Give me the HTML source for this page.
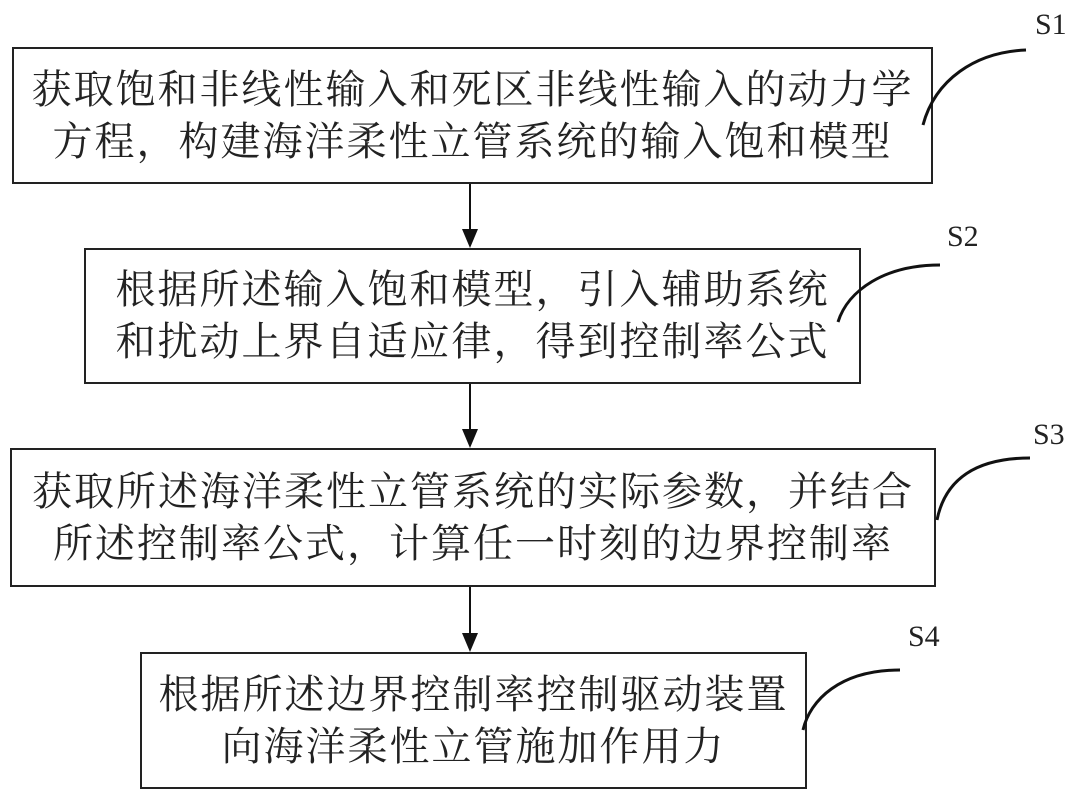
<!DOCTYPE html>
<html><head><meta charset="utf-8"><style>
body{margin:0;width:1080px;height:797px;background:#fff;position:relative;overflow:hidden;font-family:"Liberation Serif","Noto Serif CJK SC","Noto Sans CJK SC",serif;}
.b{position:absolute;border:2.5px solid #222;box-sizing:border-box;display:flex;flex-direction:column;justify-content:center;align-items:center;font-size:40px;line-height:52px;letter-spacing:2px;color:#222;white-space:nowrap;}
.l{position:absolute;font-size:30px;color:#222;}
</style></head><body>
<div class="b" style="left:12px;top:47px;width:921px;height:137px"><div>获取饱和非线性输入和死区非线性输入的动力学</div><div>方程，构建海洋柔性立管系统的输入饱和模型</div></div>
<div class="b" style="left:84px;top:248px;width:777px;height:136px"><div>根据所述输入饱和模型，引入辅助系统</div><div>和扰动上界自适应律，得到控制率公式</div></div>
<div class="b" style="left:10px;top:448px;width:926px;height:139px"><div>获取所述海洋柔性立管系统的实际参数，并结合</div><div>所述控制率公式，计算任一时刻的边界控制率</div></div>
<div class="b" style="left:140px;top:652px;width:667px;height:137px"><div>根据所述边界控制率控制驱动装置</div><div>向海洋柔性立管施加作用力</div></div>
<div class="l" style="left:1035px;top:8px">S1</div>
<div class="l" style="left:947px;top:220px">S2</div>
<div class="l" style="left:1033px;top:418px">S3</div>
<div class="l" style="left:908px;top:620px">S4</div>
<svg width="1080" height="797" style="position:absolute;left:0;top:0" fill="none" stroke="#111" stroke-width="3">
<path d="M923 125 C935 80 975 52 1026 50"/>
<path d="M838 322 C848 290 885 265 940 265"/>
<path d="M937 520 C945 480 975 458 1030 458"/>
<path d="M803 730 C810 700 840 670 900 670"/>
<g stroke-width="2">
<line x1="470" y1="184" x2="470" y2="232"/>
<line x1="470" y1="384" x2="470" y2="432"/>
<line x1="470" y1="587" x2="470" y2="636"/>
</g>
<g fill="#111" stroke="none">
<polygon points="462,229 478,229 470,248"/>
<polygon points="462,429 478,429 470,448"/>
<polygon points="462,633 478,633 470,652"/>
</g>
</svg>
</body></html>
